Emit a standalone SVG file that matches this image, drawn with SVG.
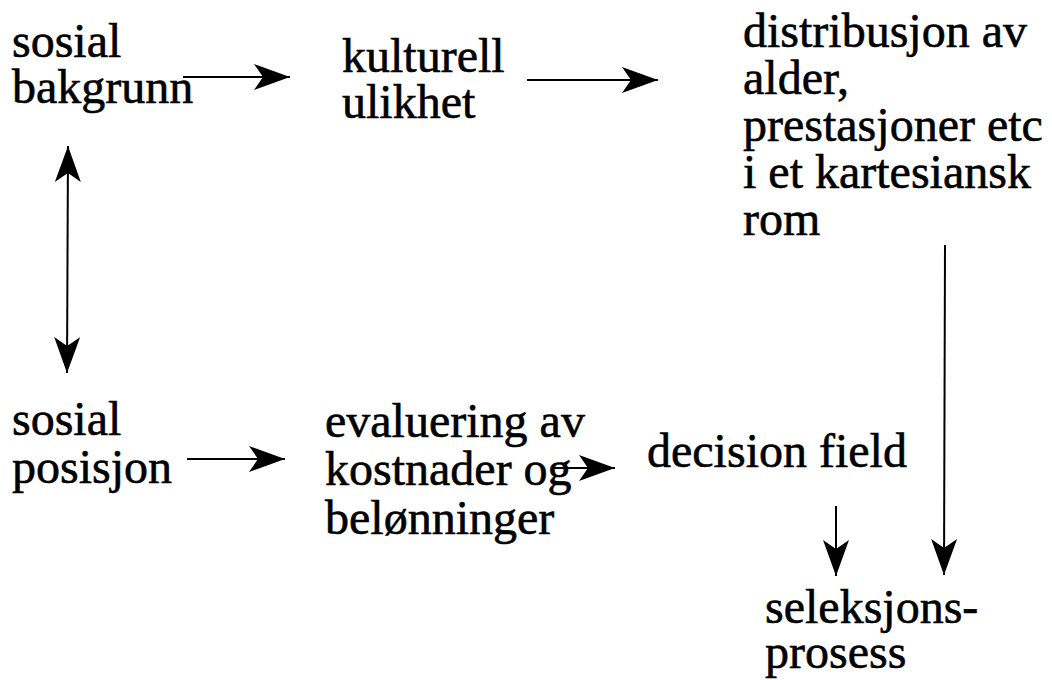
<svg xmlns="http://www.w3.org/2000/svg" width="1052" height="680" viewBox="0 0 1052 680">
  <style>
    .lbl { font-family: "Liberation Serif", "Times New Roman", serif; font-size: 48px; fill: #000; stroke: #000; stroke-width: 0.6px; }
    .conn { stroke: #000; stroke-width: 2; fill: none; }
  </style>
  <defs>
    <!-- barbed arrowhead, tip at the line end -->
    <marker id="head" markerUnits="userSpaceOnUse" markerWidth="40" markerHeight="30" refX="36" refY="13" orient="auto" viewBox="0 0 40 30">
      <path d="M36,13 L0,0 L9,13 L0,26 Z" fill="#000"/>
    </marker>
    <marker id="headStart" markerUnits="userSpaceOnUse" markerWidth="40" markerHeight="30" refX="0" refY="13" orient="auto" viewBox="0 0 40 30">
      <path d="M0,13 L36,0 L27,13 L36,26 Z" fill="#000"/>
    </marker>
  </defs>
  <rect width="1052" height="680" fill="#fff"/>

  <g id="connectors">
    <line class="conn" x1="183" y1="77" x2="290" y2="77" marker-end="url(#head)"/>
    <line class="conn" x1="527" y1="80" x2="658" y2="80" marker-end="url(#head)"/>
    <line class="conn" x1="68" y1="146" x2="67" y2="373" marker-start="url(#headStart)" marker-end="url(#head)"/>
    <line class="conn" x1="187" y1="459" x2="285" y2="459" marker-end="url(#head)"/>
    <line class="conn" x1="553" y1="468" x2="615" y2="468" marker-end="url(#head)"/>
    <line class="conn" x1="945" y1="245" x2="944" y2="575" marker-end="url(#head)"/>
    <line class="conn" x1="836" y1="506" x2="836" y2="576" marker-end="url(#head)"/>
  </g>

  <g id="sosial-bakgrunn">
    <text class="lbl" x="12" y="57">sosial</text>
    <text class="lbl" x="12" y="103">bakgrunn</text>
  </g>
  <g id="kulturell-ulikhet">
    <text class="lbl" x="342" y="72">kulturell</text>
    <text class="lbl" x="342" y="118">ulikhet</text>
  </g>
  <g id="distribusjon">
    <text class="lbl" x="743" y="47">distribusjon av</text>
    <text class="lbl" x="743" y="94">alder,</text>
    <text class="lbl" x="743" y="141">prestasjoner etc</text>
    <text class="lbl" x="743" y="188">i et kartesiansk</text>
    <text class="lbl" x="743" y="235">rom</text>
  </g>
  <g id="sosial-posisjon">
    <text class="lbl" x="12" y="435">sosial</text>
    <text class="lbl" x="12" y="483">posisjon</text>
  </g>
  <g id="evaluering">
    <text class="lbl" x="325" y="437">evaluering av</text>
    <text class="lbl" x="325" y="485">kostnader og</text>
    <text class="lbl" x="325" y="534">belønninger</text>
  </g>
  <g id="decision-field">
    <text class="lbl" x="647" y="467">decision field</text>
  </g>
  <g id="seleksjonsprosess">
    <text class="lbl" x="765" y="623">seleksjons-</text>
    <text class="lbl" x="765" y="668">prosess</text>
  </g>
</svg>
